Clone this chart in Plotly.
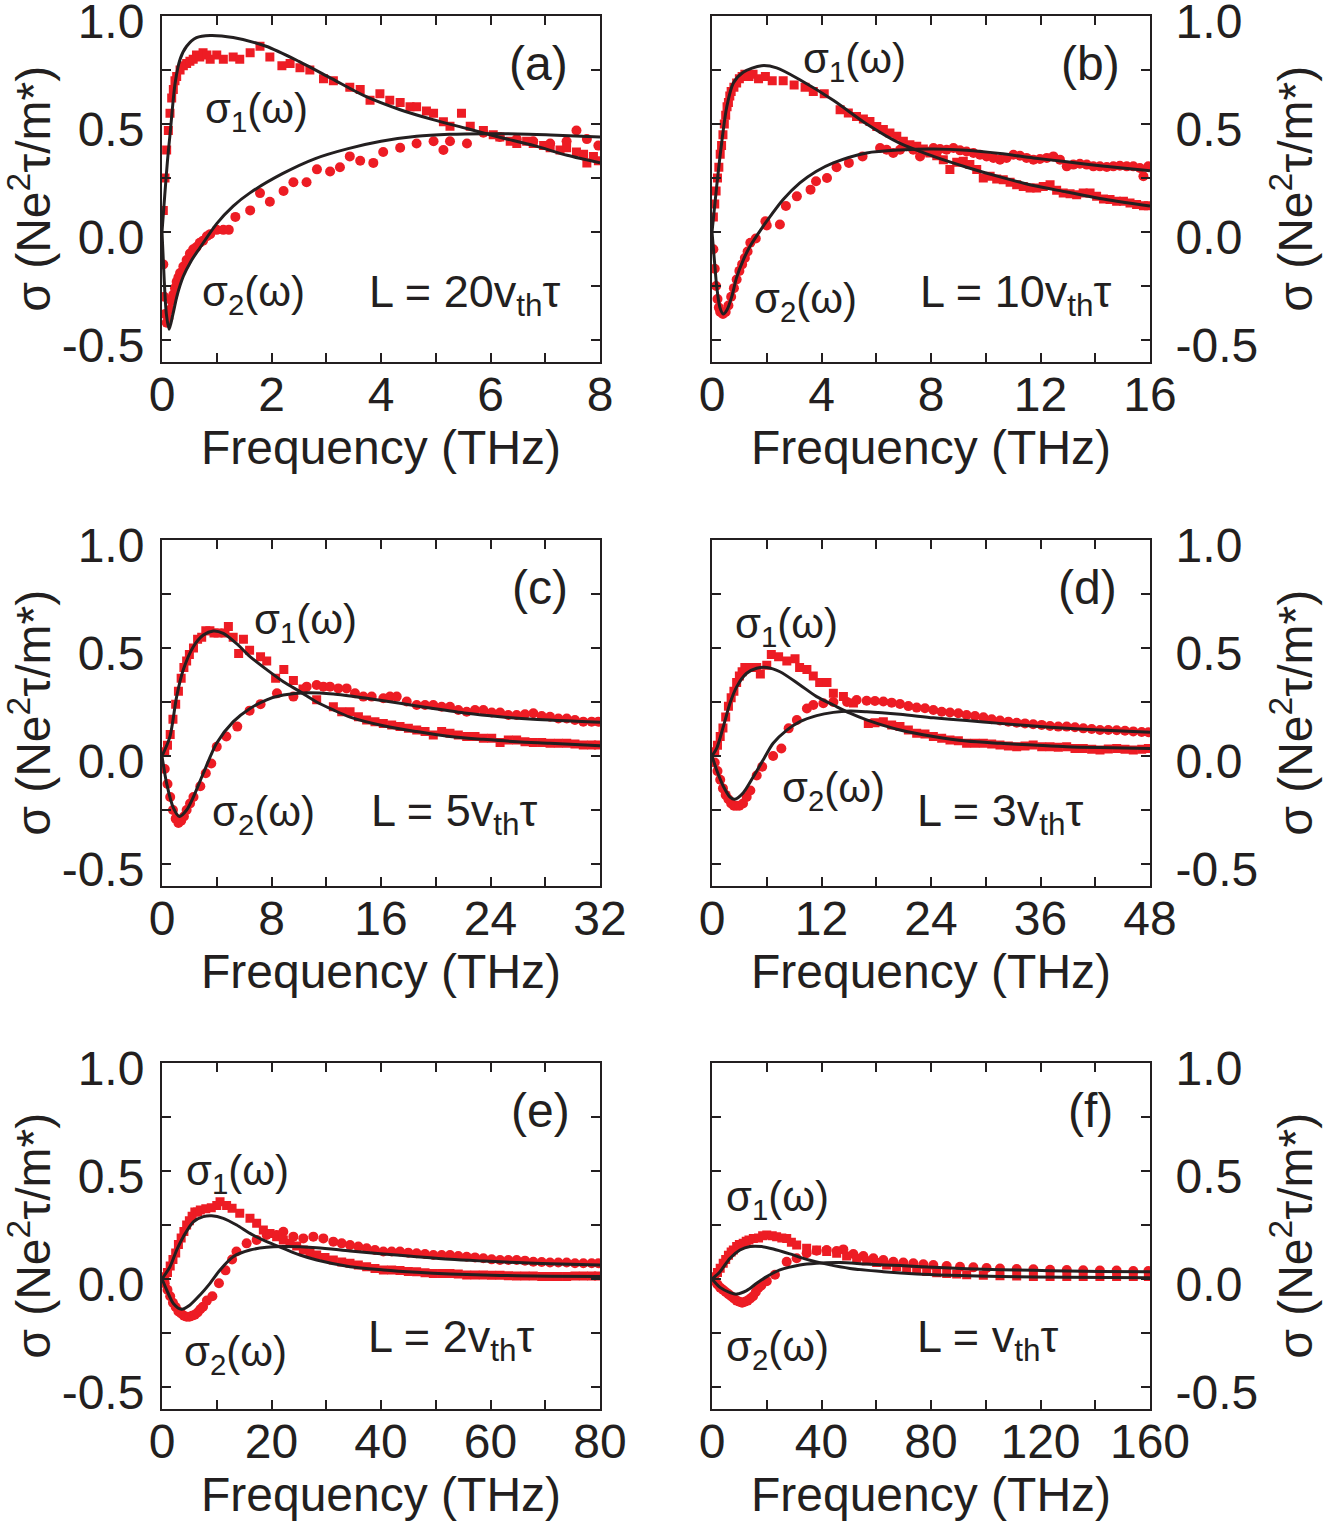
import plotly.graph_objects as go

# ---------------- Panel (a)  L = 20 v_th tau ----------------
a_s1_x = [0.024,0.055,0.085,0.116,0.146,0.177,0.207,0.237,0.268,0.33,0.39,0.45,0.51,0.57,0.63,0.69,0.75,0.82,0.88,1.0,1.12,1.3,1.42,1.61,1.79,1.97,2.19,2.34,2.52,2.70,2.95,3.13,3.43,3.62,3.80,3.98,4.16,4.35,4.53,4.65,4.83,4.96,5.14,5.26,5.47,5.63,5.87,6.05,6.17,6.36,6.48,6.66,6.78,6.97,7.09,7.27,7.39,7.57,7.70,7.76,7.88,7.97]
a_s1_y = [0.10,0.25,0.38,0.47,0.55,0.62,0.66,0.70,0.72,0.75,0.77,0.78,0.79,0.80,0.82,0.81,0.83,0.82,0.80,0.82,0.80,0.81,0.80,0.83,0.86,0.81,0.77,0.78,0.76,0.75,0.71,0.70,0.67,0.66,0.61,0.64,0.61,0.60,0.58,0.58,0.56,0.55,0.51,0.49,0.55,0.49,0.47,0.45,0.44,0.42,0.41,0.42,0.41,0.40,0.39,0.38,0.39,0.37,0.36,0.32,0.35,0.33]
a_s2_x = [0.024,0.04,0.055,0.085,0.116,0.146,0.177,0.207,0.237,0.268,0.30,0.33,0.39,0.45,0.51,0.57,0.63,0.69,0.75,0.82,0.88,1.0,1.12,1.22,1.34,1.61,1.79,1.97,2.22,2.40,2.64,2.83,3.07,3.25,3.43,3.62,3.86,4.04,4.35,4.65,4.96,5.14,5.26,5.57,5.87,6.17,6.48,6.78,7.09,7.39,7.57,7.76,7.97]
a_s2_y = [-0.15,-0.30,-0.38,-0.42,-0.40,-0.36,-0.32,-0.29,-0.26,-0.23,-0.21,-0.19,-0.16,-0.13,-0.10,-0.08,-0.07,-0.05,-0.04,-0.02,-0.01,0.01,0.01,0.01,0.07,0.10,0.18,0.14,0.19,0.23,0.23,0.29,0.28,0.30,0.35,0.33,0.32,0.37,0.39,0.41,0.42,0.38,0.42,0.41,0.46,0.44,0.43,0.42,0.41,0.42,0.47,0.43,0.40]
a_fit1_x = [0,0.05,0.1,0.15,0.24,0.33,0.45,0.63,0.88,1.3,1.9,2.5,3.1,3.7,4.35,4.95,5.55,6.15,6.8,7.4,8.0]
a_fit1_y = [0,0.17,0.33,0.46,0.69,0.80,0.86,0.90,0.91,0.90,0.86,0.79,0.71,0.63,0.566,0.52,0.48,0.44,0.40,0.355,0.32]
a_fit2_x = [0,0.04,0.08,0.13,0.2,0.28,0.39,0.53,0.69,1.0,1.3,1.6,2.2,2.8,3.4,4.0,4.65,5.25,5.9,6.5,7.1,8.0]
a_fit2_y = [0,-0.22,-0.38,-0.45,-0.38,-0.29,-0.205,-0.135,-0.074,0.039,0.12,0.18,0.27,0.34,0.386,0.42,0.443,0.452,0.455,0.454,0.449,0.44]

# ---------------- Panel (b)  L = 10 v_th tau ----------------
b_s1_x = [0.05,0.1,0.15,0.2,0.25,0.3,0.35,0.4,0.45,0.5,0.55,0.6,0.65,0.7,0.8,0.9,1.0,1.1,1.2,1.35,1.5,1.7,1.95,2.2,2.6,3.0,3.4,3.7,4.1,4.68,4.98,5.28,5.53,5.77,6.02,6.26,6.5,6.75,6.99,7.23,7.48,7.72,7.96,8.21,8.45,8.69,8.94,9.18,9.42,9.67,9.91,10.16,10.4,10.64,10.89,11.13,11.37,11.62,11.86,12.1,12.35,12.59,12.83,13.08,13.32,13.56,13.81,14.05,14.3,14.54,14.78,15.03,15.27,15.51,15.76,15.94]
b_s1_y = [0.07,0.13,0.19,0.25,0.30,0.36,0.40,0.45,0.50,0.54,0.58,0.60,0.63,0.65,0.67,0.69,0.71,0.72,0.73,0.72,0.73,0.71,0.72,0.70,0.70,0.68,0.67,0.65,0.64,0.566,0.551,0.535,0.523,0.512,0.489,0.474,0.458,0.443,0.42,0.404,0.397,0.384,0.366,0.353,0.335,0.289,0.323,0.327,0.312,0.289,0.25,0.258,0.245,0.242,0.23,0.219,0.211,0.204,0.204,0.211,0.219,0.193,0.181,0.177,0.173,0.181,0.181,0.165,0.153,0.15,0.142,0.142,0.134,0.127,0.122,0.122]
b_s2_x = [0.05,0.1,0.15,0.2,0.25,0.3,0.4,0.5,0.6,0.7,0.8,0.9,1.0,1.1,1.2,1.3,1.4,1.6,1.95,2.0,2.48,2.7,3.1,3.6,3.8,4.2,4.55,5.0,5.5,6.14,6.38,6.62,6.87,7.11,7.35,7.6,7.84,8.09,8.33,8.57,8.82,9.06,9.3,9.55,9.79,10.03,10.28,10.52,10.76,11.01,11.25,11.49,11.74,11.98,12.23,12.47,12.71,12.96,13.2,13.44,13.69,13.93,14.17,14.42,14.66,14.9,15.15,15.39,15.63,15.76,15.94]
b_s2_y = [-0.08,-0.17,-0.25,-0.31,-0.35,-0.37,-0.38,-0.37,-0.34,-0.30,-0.26,-0.22,-0.18,-0.15,-0.12,-0.09,-0.05,-0.03,0.05,0.03,0.035,0.12,0.165,0.196,0.235,0.25,0.30,0.32,0.35,0.389,0.381,0.366,0.381,0.397,0.381,0.35,0.373,0.389,0.384,0.381,0.389,0.378,0.373,0.366,0.358,0.35,0.343,0.335,0.343,0.358,0.353,0.343,0.335,0.338,0.343,0.35,0.335,0.304,0.312,0.316,0.312,0.304,0.304,0.301,0.304,0.307,0.304,0.304,0.296,0.258,0.304]
b_fit1_x = [0,0.17,0.35,0.54,0.78,1.14,1.81,2.36,3.21,4.43,5.65,6.87,8.09,9.3,10.52,11.74,12.96,14.17,16]
b_fit1_y = [0,0.21,0.41,0.58,0.69,0.74,0.77,0.76,0.705,0.61,0.50,0.41,0.35,0.30,0.255,0.215,0.185,0.155,0.12]
b_fit2_x = [0,0.1,0.17,0.29,0.41,0.55,0.72,0.9,1.14,1.39,1.7,2.0,2.6,3.21,3.8,4.43,5.65,6.87,8.09,9.3,10.52,11.74,12.96,14.17,16]
b_fit2_y = [0,-0.15,-0.25,-0.35,-0.38,-0.36,-0.30,-0.21,-0.13,-0.066,-0.005,0.05,0.15,0.227,0.28,0.32,0.366,0.38,0.384,0.378,0.363,0.343,0.325,0.307,0.284]

# ---------------- Panel (c)  L = 5 v_th tau ----------------
c_s1_x = [0.2,0.4,0.6,0.8,1.0,1.2,1.4,1.6,1.8,2.0,2.3,2.6,2.9,3.2,3.5,3.8,4.1,4.6,4.85,5.2,5.6,5.95,6.4,7.2,7.65,8.3,8.9,9.6,10.3,11.3,12.52,13.13,13.74,14.35,14.95,15.56,16.17,16.78,17.39,18.0,18.61,19.22,19.82,20.43,21.04,21.65,22.26,22.87,23.48,24.09,24.7,25.3,25.91,26.52,27.13,27.74,28.35,28.96,29.57,30.17,30.78,31.39,31.88]
c_s1_y = [0.02,0.05,0.10,0.17,0.24,0.30,0.36,0.41,0.44,0.47,0.50,0.54,0.55,0.58,0.58,0.57,0.57,0.57,0.60,0.55,0.475,0.54,0.49,0.46,0.44,0.36,0.40,0.35,0.31,0.26,0.228,0.205,0.205,0.182,0.167,0.159,0.151,0.144,0.136,0.128,0.12,0.113,0.097,0.113,0.105,0.097,0.09,0.09,0.082,0.082,0.062,0.074,0.074,0.066,0.062,0.063,0.059,0.059,0.059,0.056,0.051,0.051,0.051]
c_s2_x = [0.2,0.4,0.6,0.8,1.0,1.2,1.4,1.6,1.8,2.05,2.3,2.8,3.2,3.6,4.0,4.7,5.5,6.4,7.2,8.4,9.6,10.57,11.3,11.79,12.27,12.88,13.49,14.1,14.71,15.32,16.17,16.66,17.15,17.88,18.61,19.22,19.82,20.43,21.04,21.65,22.26,22.87,23.48,24.09,24.7,25.3,25.91,26.52,27.13,27.74,28.35,28.96,29.57,30.17,30.78,31.39,31.88]
c_s2_y = [-0.06,-0.13,-0.19,-0.25,-0.29,-0.31,-0.30,-0.28,-0.25,-0.22,-0.19,-0.14,-0.08,-0.035,0.043,0.09,0.136,0.21,0.24,0.29,0.275,0.321,0.329,0.321,0.321,0.313,0.313,0.29,0.275,0.275,0.267,0.275,0.275,0.252,0.236,0.236,0.236,0.228,0.228,0.213,0.205,0.213,0.213,0.201,0.201,0.19,0.19,0.193,0.198,0.185,0.182,0.174,0.174,0.167,0.159,0.159,0.159]
c_fit1_x = [0,0.58,1.07,1.56,2.29,3.02,3.75,4.48,5.46,6.43,7.65,8.87,10.08,11.3,12.52,13.74,16.17,18.61,21.04,23.48,25.91,28.35,32]
c_fit1_y = [0,0.09,0.275,0.40,0.506,0.56,0.579,0.568,0.52,0.46,0.40,0.344,0.298,0.25,0.213,0.18,0.14,0.113,0.09,0.077,0.066,0.059,0.048]
c_fit2_x = [0,0.34,0.83,1.27,1.8,2.29,3.02,3.99,5.21,6.43,7.65,8.87,10.57,12.52,14.95,17.39,19.82,22.26,24.7,27.13,32]
c_fit2_y = [0,-0.127,-0.24,-0.28,-0.25,-0.19,-0.08,0.059,0.159,0.22,0.26,0.282,0.293,0.287,0.267,0.244,0.22,0.198,0.182,0.17,0.156]

# ---------------- Panel (d)  L = 3 v_th tau ----------------
d_s1_x = [0.3,0.6,0.9,1.2,1.5,1.8,2.1,2.4,2.7,3.0,3.3,3.6,4.2,4.9,5.3,6.0,6.5,7.3,8.2,9.1,9.6,10.4,11.1,11.8,12.6,13.3,14.4,15.5,17.13,17.86,18.78,19.69,20.6,21.52,22.43,23.34,24.26,25.17,26.08,27.0,27.9,28.82,29.74,30.65,31.56,32.48,33.39,34.3,35.2,36.13,37.04,37.95,38.87,39.78,40.69,41.61,42.52,43.43,44.35,45.26,46.17,47.09,47.82]
d_s1_y = [0.02,0.05,0.09,0.13,0.18,0.23,0.27,0.30,0.34,0.37,0.39,0.41,0.41,0.41,0.38,0.42,0.47,0.46,0.44,0.45,0.41,0.40,0.37,0.34,0.34,0.29,0.275,0.245,0.151,0.154,0.159,0.144,0.136,0.12,0.105,0.102,0.09,0.082,0.074,0.071,0.059,0.059,0.059,0.056,0.051,0.046,0.043,0.046,0.051,0.043,0.043,0.04,0.043,0.035,0.035,0.031,0.028,0.032,0.035,0.031,0.028,0.031,0.035]
d_s2_x = [0.3,0.6,0.9,1.2,1.5,1.8,2.1,2.4,2.7,3.0,3.4,3.8,4.2,4.9,5.5,6.7,7.6,8.4,9.3,10.4,11.1,12.2,13.3,14.8,15.85,16.95,17.86,18.78,19.69,20.6,21.52,22.43,23.34,24.26,25.17,26.08,27.0,27.9,28.82,29.74,30.65,31.56,32.48,33.39,34.3,35.2,36.13,37.04,37.95,38.87,39.78,40.69,41.61,42.52,43.43,44.35,45.26,46.17,47.09,47.82]
d_s2_y = [-0.03,-0.07,-0.11,-0.15,-0.18,-0.20,-0.22,-0.23,-0.23,-0.23,-0.22,-0.19,-0.16,-0.09,-0.05,0.0,0.035,0.128,0.167,0.22,0.236,0.244,0.25,0.25,0.259,0.256,0.255,0.252,0.247,0.241,0.231,0.224,0.221,0.213,0.205,0.201,0.198,0.19,0.185,0.179,0.17,0.164,0.159,0.154,0.151,0.147,0.144,0.139,0.136,0.136,0.133,0.128,0.125,0.12,0.12,0.119,0.117,0.114,0.111,0.11]
d_fit1_x = [0,0.51,1.24,1.97,2.7,3.8,4.89,5.99,7.45,9.64,11.47,13.3,15.12,16.95,20.6,24.26,27.9,31.56,35.2,38.87,42.5,48]
d_fit1_y = [0,0.035,0.136,0.244,0.32,0.383,0.406,0.41,0.39,0.329,0.275,0.236,0.198,0.167,0.12,0.09,0.069,0.059,0.051,0.043,0.039,0.035]
d_fit2_x = [0,0.51,1.24,1.97,2.52,3.43,4.53,5.6,6.7,8.2,9.64,11.47,13.3,15.12,16.95,20.6,24.26,27.9,31.56,35.2,38.87,42.5,48]
d_fit2_y = [0,-0.065,-0.14,-0.19,-0.20,-0.17,-0.096,-0.019,0.059,0.12,0.159,0.187,0.202,0.208,0.205,0.193,0.177,0.164,0.151,0.139,0.128,0.12,0.11]

# ---------------- Panel (e)  L = 2 v_th tau ----------------
e_s1_x = [0.5,1.0,1.5,2.0,2.5,3.0,3.5,4.0,4.5,5.0,5.5,6.0,6.5,7.0,8.0,9.0,10.0,10.6,11.8,12.8,14.2,16.07,17.29,18.51,19.73,20.94,22.16,23.38,24.6,25.81,27.03,28.25,29.77,31.29,32.82,34.34,35.86,37.38,38.9,40.43,41.95,43.47,44.99,46.51,48.04,49.56,51.08,52.6,54.12,55.65,57.17,58.69,60.21,61.74,63.26,64.78,66.3,67.82,69.35,70.87,72.39,73.91,75.43,76.96,78.48,79.7]
e_s1_y = [0.01,0.03,0.06,0.09,0.12,0.16,0.19,0.22,0.25,0.27,0.29,0.31,0.31,0.32,0.325,0.33,0.34,0.358,0.34,0.327,0.304,0.281,0.258,0.227,0.211,0.196,0.181,0.165,0.153,0.134,0.122,0.111,0.1,0.088,0.079,0.073,0.065,0.057,0.049,0.042,0.042,0.039,0.035,0.034,0.029,0.026,0.026,0.026,0.023,0.019,0.019,0.019,0.017,0.017,0.015,0.014,0.014,0.014,0.012,0.011,0.011,0.012,0.014,0.014,0.014,0.014]
e_s2_x = [0.5,1.0,1.5,2.0,2.5,3.0,3.5,4.0,4.5,5.0,5.5,6.0,6.5,7.0,7.5,8.2,9.2,10.4,11.6,12.8,13.6,15.46,17.29,19.12,20.94,22.16,23.99,25.81,27.64,29.47,31.29,32.82,34.34,35.86,37.38,38.9,40.43,41.95,43.47,44.99,46.51,48.04,49.56,51.08,52.6,54.12,55.65,57.17,58.69,60.21,61.74,63.26,64.78,66.3,67.82,69.35,70.87,72.39,73.91,75.43,76.96,78.48,79.7]
e_s2_y = [-0.02,-0.05,-0.08,-0.11,-0.13,-0.15,-0.16,-0.17,-0.175,-0.175,-0.17,-0.165,-0.155,-0.14,-0.128,-0.10,-0.08,-0.02,0.04,0.09,0.127,0.165,0.181,0.204,0.204,0.219,0.196,0.188,0.196,0.188,0.173,0.165,0.157,0.15,0.142,0.134,0.127,0.127,0.127,0.122,0.119,0.116,0.111,0.111,0.111,0.106,0.103,0.1,0.096,0.091,0.088,0.088,0.088,0.085,0.08,0.079,0.076,0.076,0.076,0.073,0.073,0.073,0.073]
e_fit1_x = [0,1.46,2.68,3.9,5.72,7.55,9.07,11.2,13.64,16.07,19.12,22.16,25.2,28.25,34.34,40.43,46.5,52.6,58.7,64.8,70.9,80]
e_fit1_y = [0,0.057,0.134,0.196,0.265,0.289,0.293,0.281,0.25,0.211,0.173,0.142,0.111,0.088,0.057,0.042,0.031,0.023,0.0185,0.015,0.013,0.011]
e_fit2_x = [0,0.85,2.07,3.59,5.11,6.94,8.77,10.6,13.0,16.07,19.12,22.16,28.25,34.34,40.43,46.5,52.6,58.7,64.8,70.9,80]
e_fit2_y = [0,-0.05,-0.113,-0.14,-0.12,-0.074,-0.02,0.042,0.103,0.134,0.147,0.15,0.145,0.13,0.116,0.103,0.091,0.083,0.076,0.071,0.065]

# ---------------- Panel (f)  L = v_th tau ----------------
f_s1_x = [1,2,3,4.1,5,6,7,7.8,9,10,11.4,12.5,13.5,15.1,17,18.5,20,22,23.6,25.5,27.3,29,30.93,34.58,38.23,41.89,45.54,49.19,52.85,56.5,60.15,63.8,67.46,71.11,74.76,78.42,82.07,85.72,89.38,93.03,99.12,105.2,111.3,117.4,123.5,129.6,135.6,141.7,147.8,153.9,159.4]
f_s1_y = [0.01,0.03,0.05,0.073,0.09,0.11,0.125,0.134,0.15,0.16,0.165,0.175,0.18,0.188,0.19,0.2,0.204,0.2,0.196,0.19,0.188,0.17,0.157,0.142,0.134,0.127,0.119,0.106,0.096,0.085,0.076,0.065,0.057,0.049,0.042,0.035,0.029,0.026,0.023,0.02,0.017,0.015,0.014,0.012,0.012,0.011,0.011,0.011,0.011,0.011,0.011]
f_s2_x = [1,2,3,4,5,6,7,8,9,10,11,12,13,14,15,16,17,18,20,23,27.28,30.93,34.58,38.23,41.89,45.54,47.98,51.63,55.28,58.93,62.59,66.24,69.89,73.55,77.2,80.85,85.72,90.59,95.46,100.3,105.2,111.3,117.4,123.5,129.6,135.6,141.7,147.8,153.9,159.4]
f_s2_y = [-0.01,-0.025,-0.04,-0.05,-0.06,-0.07,-0.08,-0.09,-0.1,-0.105,-0.11,-0.105,-0.1,-0.09,-0.08,-0.06,-0.04,-0.03,-0.01,0.02,0.08,0.096,0.119,0.131,0.134,0.13,0.137,0.116,0.106,0.096,0.088,0.08,0.076,0.073,0.068,0.065,0.06,0.057,0.054,0.051,0.049,0.046,0.045,0.043,0.042,0.04,0.039,0.039,0.037,0.037]
f_fit1_x = [0,2.92,6.58,10.23,13.88,18.14,22.4,28.5,34.6,41.9,50.4,62.6,74.8,86.9,105.2,129.6,160]
f_fit1_y = [0,0.034,0.096,0.134,0.15,0.15,0.139,0.116,0.091,0.069,0.049,0.034,0.023,0.017,0.011,0.008,0.006]
f_fit2_x = [0,2.92,6.58,9.0,12.66,16.3,20.0,24.8,32.1,38.2,46.8,56.5,68.7,80.9,93.0,105.2,117.4,129.6,141.7,160]
f_fit2_y = [0,-0.039,-0.063,-0.07,-0.054,-0.02,0.011,0.042,0.065,0.073,0.076,0.069,0.062,0.054,0.048,0.043,0.04,0.037,0.035,0.034]

# axis settings per panel
x_max = [8, 16, 32, 48, 80, 160]
panel_letters = ["(a)", "(b)", "(c)", "(d)", "(e)", "(f)"]
length_labels = ["L = 20v<sub>th</sub>τ", "L = 10v<sub>th</sub>τ", "L = 5v<sub>th</sub>τ",
                 "L = 3v<sub>th</sub>τ", "L = 2v<sub>th</sub>τ", "L = v<sub>th</sub>τ"]
y_tick_vals = [-0.5, 0.0, 0.5, 1.0]
y_tick_text = ["-0.5", "0.0", "0.5", "1.0"]

panels = [
    (a_s1_x, a_s1_y, a_s2_x, a_s2_y, a_fit1_x, a_fit1_y, a_fit2_x, a_fit2_y),
    (b_s1_x, b_s1_y, b_s2_x, b_s2_y, b_fit1_x, b_fit1_y, b_fit2_x, b_fit2_y),
    (c_s1_x, c_s1_y, c_s2_x, c_s2_y, c_fit1_x, c_fit1_y, c_fit2_x, c_fit2_y),
    (d_s1_x, d_s1_y, d_s2_x, d_s2_y, d_fit1_x, d_fit1_y, d_fit2_x, d_fit2_y),
    (e_s1_x, e_s1_y, e_s2_x, e_s2_y, e_fit1_x, e_fit1_y, e_fit2_x, e_fit2_y),
    (f_s1_x, f_s1_y, f_s2_x, f_s2_y, f_fit1_x, f_fit1_y, f_fit2_x, f_fit2_y),
]
for p in panels:
    for k in range(0, 8, 2):
        assert len(p[k]) == len(p[k + 1]), (len(p[k]), len(p[k + 1]))

# label positions (data units): letter, sigma1, sigma2, L-label
letter_pos = [(6.88, 0.78), (13.84, 0.78), (27.6, 0.78), (41.2, 0.78), (69.2, 0.78), (138.4, 0.78)]
s1_pos = [(1.72, 0.56), (5.22, 0.79), (10.5, 0.62), (8.2, 0.60), (13.7, 0.49), (23.8, 0.37)]
s2_pos = [(1.68, -0.29), (3.43, -0.32), (7.45, -0.27), (13.3, -0.16), (13.5, -0.35), (23.8, -0.325)]
L_pos = [(5.53, -0.29), (11.07, -0.29), (21.3, -0.265), (31.6, -0.265), (52.8, -0.28), (100.8, -0.28)]

RED = "#ed1c24"
BLACK = "#231f20"
FONT = "Arial, Liberation Sans, sans-serif"
W, H = 1330, 1523

col_px = [(162, 600), (712, 1150)]
row_px = [(16, 361.6), (540, 885.6), (1063, 1408.6)]

fig = go.Figure()
layout = dict(
    width=W, height=H, margin=dict(l=0, r=0, t=0, b=0, autoexpand=False),
    paper_bgcolor="white", plot_bgcolor="white", showlegend=False,
    font=dict(family=FONT, color=BLACK, size=48),
)
annotations = []

for i, p in enumerate(panels):
    r, c = divmod(i, 2)
    n = i + 1
    xa = "x" if n == 1 else f"x{n}"
    ya = "y" if n == 1 else f"y{n}"
    s1x, s1y, s2x, s2y, f1x, f1y, f2x, f2y = p
    fig.add_trace(go.Scatter(x=s2x, y=s2y, mode="markers", xaxis=xa, yaxis=ya,
                             marker=dict(symbol="circle", size=10, color=RED, line=dict(width=0)),
                             name="σ2 data"))
    fig.add_trace(go.Scatter(x=s1x, y=s1y, mode="markers", xaxis=xa, yaxis=ya,
                             marker=dict(symbol="square", size=9, color=RED, line=dict(width=0)),
                             name="σ1 data"))
    fig.add_trace(go.Scatter(x=f1x, y=f1y, mode="lines", xaxis=xa, yaxis=ya,
                             line=dict(color=BLACK, width=3, shape="spline", smoothing=0.8),
                             name="σ1 fit"))
    fig.add_trace(go.Scatter(x=f2x, y=f2y, mode="lines", xaxis=xa, yaxis=ya,
                             line=dict(color=BLACK, width=3, shape="spline", smoothing=0.8),
                             name="σ2 fit"))

    xm = x_max[i]
    step = xm / 8
    xt_vals = [step * k for k in range(0, 9, 2)]
    xt_text = [f"{v:g}" for v in xt_vals]
    x0, x1 = col_px[c]
    y0, y1 = row_px[r]
    axis_common = dict(showline=True, linewidth=2, linecolor=BLACK, mirror="ticks",
                       ticks="inside", ticklen=9, tickwidth=2, tickcolor=BLACK,
                       showgrid=False, zeroline=False, automargin=False,
                       ticklabeloverflow="allow",
                       tickfont=dict(family=FONT, size=48, color=BLACK))
    layout[f"xaxis{'' if n == 1 else n}"] = dict(
        domain=[x0 / W, x1 / W], range=[0, xm], anchor=ya,
        tickmode="array", tickvals=xt_vals, ticktext=xt_text, ticklabelstandoff=-10,
        minor=dict(ticks="inside", ticklen=9, tickwidth=2, tickcolor=BLACK, dtick=step, tick0=0, showgrid=False),
        title=dict(text="Frequency (THz)", font=dict(family=FONT, size=48, color=BLACK), standoff=8),
        **axis_common)
    layout[f"yaxis{'' if n == 1 else n}"] = dict(
        domain=[1 - y1 / H, 1 - y0 / H], range=[-0.6, 1.0], anchor=xa,
        side="left" if c == 0 else "right",
        tickmode="array", tickvals=y_tick_vals, ticktext=y_tick_text,
        ticklabelstandoff=6 if c == 0 else 14, ticklabelshift=5,
        minor=dict(ticks="inside", ticklen=9, tickwidth=2, tickcolor=BLACK, dtick=0.25, tick0=0, showgrid=False),
        title=dict(text="σ (Ne<sup>2</sup>τ/m*)", font=dict(family=FONT, size=48, color=BLACK),
                   standoff=0 if c == 0 else 21),
        **axis_common)

    annotations.append(dict(xref=xa, yref=ya, x=letter_pos[i][0], y=letter_pos[i][1],
                            text=panel_letters[i], showarrow=False, xanchor="center", yanchor="middle",
                            font=dict(family=FONT, size=48, color=BLACK)))
    annotations.append(dict(xref=xa, yref=ya, x=s1_pos[i][0], y=s1_pos[i][1],
                            text="σ<sub>1</sub>(ω)", showarrow=False, xanchor="center", yanchor="middle",
                            font=dict(family=FONT, size=42, color=BLACK)))
    annotations.append(dict(xref=xa, yref=ya, x=s2_pos[i][0], y=s2_pos[i][1],
                            text="σ<sub>2</sub>(ω)", showarrow=False, xanchor="center", yanchor="middle",
                            font=dict(family=FONT, size=42, color=BLACK)))
    annotations.append(dict(xref=xa, yref=ya, x=L_pos[i][0], y=L_pos[i][1],
                            text=length_labels[i], showarrow=False, xanchor="center", yanchor="middle",
                            font=dict(family=FONT, size=45, color=BLACK)))

layout["annotations"] = annotations
fig.update_layout(**layout)
fig.write_html("out.html")
